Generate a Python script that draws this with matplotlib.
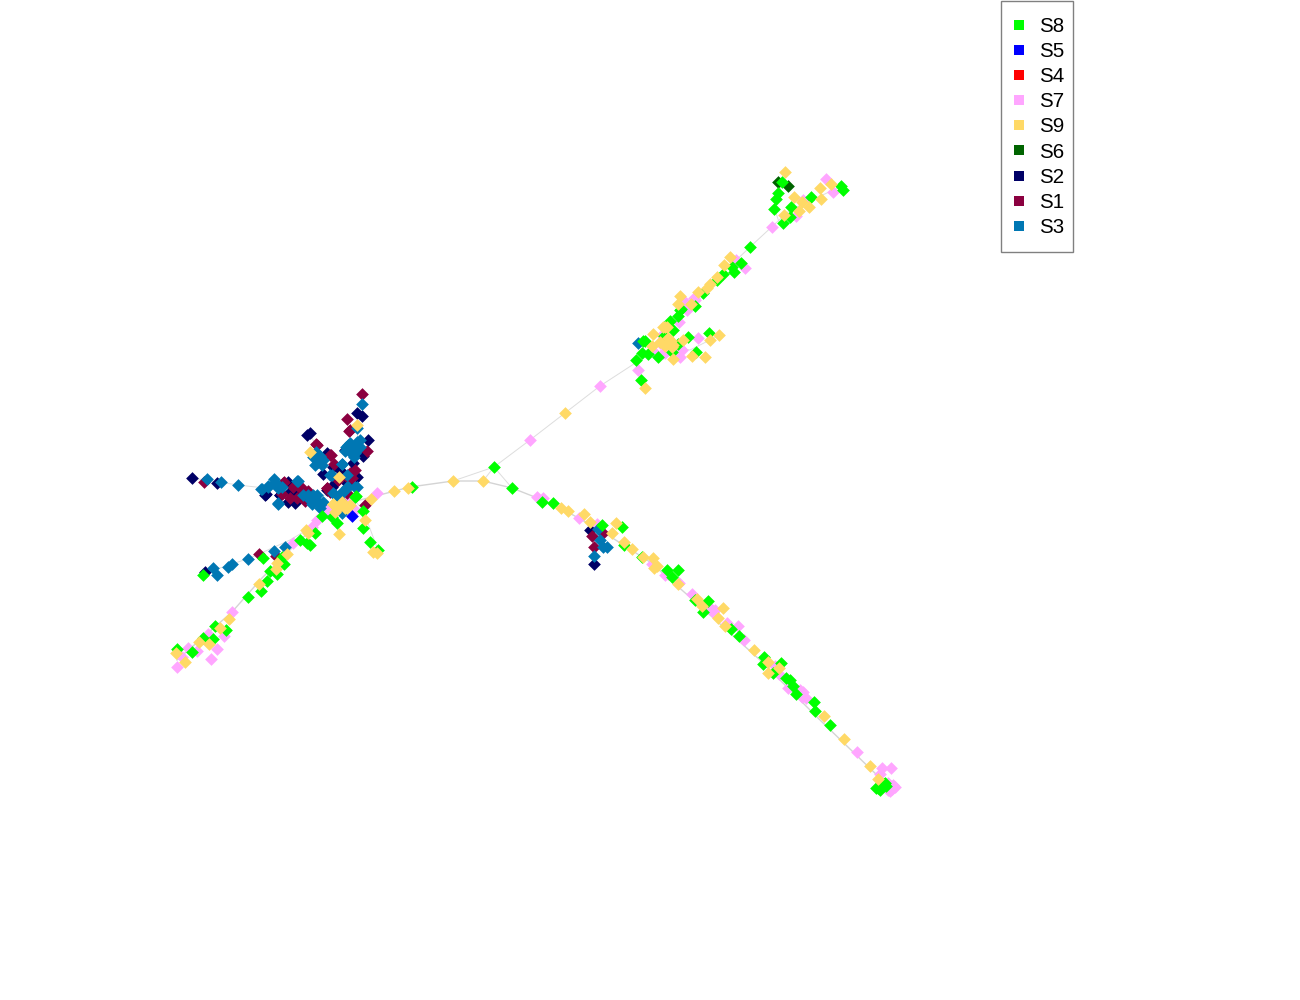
import matplotlib
matplotlib.use('Agg')
import matplotlib.pyplot as plt
from matplotlib.lines import Line2D
from matplotlib.patches import Rectangle

plt.rcParams['font.family'] = ['Liberation Sans', 'DejaVu Sans']

# layout coordinates of the cells
s3_x = [362, 221, 238, 207, 261, 268, 274, 282, 297, 278, 308, 317, 323, 312, 303, 333, 342, 347, 357, 340,
        330, 342, 350, 357, 352, 360, 353, 313, 320, 322, 316, 357, 274, 285, 248, 228, 232, 213, 217,
        598, 600, 603, 607, 594, 638,
        275, 262, 268, 278, 278, 298, 313, 310, 318, 320, 335, 342, 340, 348, 355, 347, 332, 342, 318, 320, 315,
        323, 352, 357, 355, 360, 348, 342, 345, 350, 354, 346]
s3_y = [404, 482, 485, 479, 489, 487, 479, 487, 481, 504, 495, 495, 502, 504, 495, 493, 493, 487, 487, 502,
        475, 464, 445, 442, 452, 447, 455, 457, 457, 465, 452, 428, 551, 547, 559, 567, 564, 568, 575,
        529, 540, 547, 547, 556, 343,
        482, 489, 486, 488, 503, 481, 495, 500, 502, 508, 495, 492, 500, 487, 487, 475, 475, 464, 462, 456, 465,
        460, 448, 445, 453, 440, 445, 513, 451, 443, 457, 447]
s2_x = [192, 217, 266, 288, 293, 280, 293, 357, 362, 307, 310, 368, 363, 353, 323, 357, 332, 327, 345, 333, 205, 590, 594,
        265, 290, 327, 305, 313, 335, 347, 288, 280, 295, 300, 340, 352, 345, 300]
s2_y = [478, 483, 494, 502, 493, 495, 498, 413, 416, 435, 433, 440, 456, 463, 474, 477, 487, 490, 450, 467, 572, 530, 564,
        495, 492, 453, 498, 502, 483, 483, 482, 495, 503, 495, 470, 472, 477, 490]
s1_x = [362, 204, 347, 349, 317, 330, 334, 284, 293, 301, 282, 308, 305, 327, 350, 365, 348, 367, 259, 276, 592, 594, 603,
        331, 283, 300, 297, 305, 327, 352, 347, 330, 350, 316, 338, 290, 355]
s1_y = [394, 482, 419, 431, 445, 455, 464, 482, 487, 487, 494, 491, 501, 488, 473, 505, 478, 451, 554, 556, 536, 547, 533,
        455, 483, 488, 498, 495, 488, 478, 493, 492, 430, 444, 480, 498, 470]
s8_x = [356, 363, 363, 370, 378, 322, 332, 337, 315, 300, 307, 310, 263, 282, 284, 270, 277, 267, 261, 248, 203,
        215, 226, 203, 213, 192, 177, 412,
        782, 778, 776, 774, 811, 791, 790, 783, 841, 843, 750, 741, 732, 734, 723, 717, 703, 695, 681, 678, 670,
        673, 664, 643, 658, 642, 648, 636, 641, 688, 709, 696, 678, 672,
        494, 512, 542, 553, 602, 622, 624, 642, 667, 678, 672, 695,
        708, 703, 731, 739, 764, 781, 763, 773, 786, 790, 793, 796, 814, 815, 830, 878, 882, 885, 880,
        876, 884, 881, 886, 355, 680, 645]
s8_y = [496, 511, 528, 542, 550, 516, 517, 523, 533, 540, 543, 545, 558, 557, 564, 571, 574, 581, 591, 597, 575,
        626, 630, 638, 639, 652, 649, 487,
        182, 193, 199, 209, 197, 207, 217, 223, 186, 190, 247, 263, 267, 272, 274, 280, 293, 306, 309, 316, 321,
        330, 336, 341, 357, 353, 354, 360, 380, 337, 333, 352, 344, 352,
        467, 488, 502, 503, 525, 527, 545, 557, 570, 570, 577, 600,
        601, 612, 629, 636, 657, 663, 664, 673, 678, 680, 686, 694, 702, 711, 725, 788, 787, 783, 790,
        788, 784, 785, 786, 497, 310, 341]
s9_x = [339, 357, 310, 394, 408, 371, 365, 339, 373, 377, 333, 335, 347, 350, 342, 308, 306, 287, 277, 276, 259,
        229, 220, 199, 209, 176, 185,
        453, 483, 561, 568, 584, 590, 616, 612, 624, 632, 643, 653, 657, 654, 678,
        697, 702, 723, 718, 725, 754, 768, 779, 768, 824, 844, 870, 878,
        785, 820, 831, 821, 794, 802, 809, 799, 784, 730, 724, 717, 710, 707, 698, 680, 691, 678, 665, 653, 652,
        670, 667, 673, 683, 710, 719, 692, 705, 673, 645, 565,
        668, 672, 667, 663, 345, 338, 333, 660, 665, 671]
s9_y = [477, 425, 452, 491, 488, 499, 520, 534, 552, 553, 504, 512, 508, 505, 502, 533, 530, 554, 563, 569, 584,
        619, 628, 642, 644, 653, 662,
        481, 481, 508, 511, 514, 522, 523, 533, 542, 549, 557, 558, 566, 568, 584,
        599, 606, 608, 618, 626, 650, 662, 668, 673, 716, 739, 766, 779,
        172, 188, 184, 199, 197, 202, 207, 211, 215, 257, 265, 277, 284, 288, 292, 296, 304, 304, 327, 334, 346,
        343, 343, 345, 340, 340, 335, 356, 357, 359, 388, 413,
        338, 347, 327, 327, 508, 508, 504, 342, 346, 341]
s7_x = [377, 232, 224, 208, 217, 211, 188, 197, 182, 177, 293, 312, 317, 327, 350,
        537, 543, 579, 597, 652, 668, 665, 679, 692,
        710, 713, 727, 738, 744, 775, 779, 788, 803, 802, 857, 882, 891, 880, 888, 895, 890,
        826, 833, 803, 796, 772, 736, 745, 694, 685, 687, 679, 662, 663, 653, 673, 682, 680, 698, 638, 600, 530,
        355, 343, 665, 680, 660, 695, 800, 806, 893, 888, 892, 708, 715]
s7_y = [493, 612, 636, 634, 649, 659, 648, 651, 657, 667, 543, 527, 520, 510, 502,
        497, 498, 518, 524, 564, 574, 575, 583, 594,
        608, 612, 623, 626, 640, 666, 674, 688, 692, 697, 752, 768, 768, 774, 783, 787, 791,
        179, 192, 200, 216, 227, 260, 268, 298, 302, 310, 322, 335, 353, 351, 351, 350, 357, 338, 370, 386, 440,
        510, 500, 353, 348, 343, 300, 690, 698, 785, 790, 789, 606, 610]
s6_x = [778, 788]
s6_y = [182, 186]
s5_x = [352]
s5_y = [516]
s4_x = []
s4_y = []

# tree edges behind the cells
edge_main_x = [177, 232, 262, 300, 340, 372, 410, 453, 483, 512, 555, 600, 650, 700, 760, 820, 880, 890]
edge_main_y = [660, 612, 578, 540, 505, 497, 487, 481, 481, 488, 505, 530, 562, 606, 660, 720, 778, 787]
edge_up_x = [483, 494, 530, 600, 640, 700, 750, 790, 840]
edge_up_y = [481, 467, 440, 386, 360, 295, 247, 210, 187]
edge_tri_x = [453, 494, 512]
edge_tri_y = [481, 467, 488]
edge_a_x = [205, 232, 250, 290, 340]
edge_a_y = [573, 564, 558, 540, 510]
edge_b_x = [192, 238, 300, 340]
edge_b_y = [478, 485, 492, 497]
edge_c_x = [362, 356, 340]
edge_c_y = [394, 450, 495]
edge_d_x = [310, 325, 340]
edge_d_y = [435, 460, 480]
edge_e_x = [378, 363, 350]
edge_e_y = [550, 510, 495]
edge_f_x = [594, 596, 600]
edge_f_y = [564, 545, 530]
edge_g_x = [660, 690, 718]
edge_g_y = [345, 350, 336]
edge_h_x = [782, 775, 780]
edge_h_y = [182, 210, 225]

colors = {'S8': '#00ff00', 'S5': '#0000ff', 'S4': '#ff0000', 'S7': '#ffa6ff', 'S9': '#ffd966',
          'S6': '#006400', 'S2': '#000066', 'S1': '#8b0040', 'S3': '#0077b3'}
legend_order = ['S8', 'S5', 'S4', 'S7', 'S9', 'S6', 'S2', 'S1', 'S3']

fig = plt.figure(figsize=(13, 10), dpi=100)
ax = fig.add_axes([0, 0, 1, 1])

ax.plot(edge_main_x, edge_main_y, color='#d4d4d4', lw=1.0, zorder=1)
edges = [(edge_up_x, edge_up_y), (edge_tri_x, edge_tri_y),
         (edge_a_x, edge_a_y), (edge_b_x, edge_b_y), (edge_c_x, edge_c_y), (edge_d_x, edge_d_y),
         (edge_e_x, edge_e_y), (edge_f_x, edge_f_y), (edge_g_x, edge_g_y), (edge_h_x, edge_h_y)]
for ex, ey in edges:
    ax.plot(ex, ey, color='#dddddd', lw=0.7, zorder=1)

# draw order picked so that overlaps come out as in the picture
layers = [('S6', s6_x, s6_y), ('S7', s7_x, s7_y), ('S4', s4_x, s4_y), ('S2', s2_x, s2_y), ('S1', s1_x, s1_y),
          ('S3', s3_x, s3_y), ('S8', s8_x, s8_y), ('S9', s9_x, s9_y), ('S5', s5_x, s5_y)]
for z, (name, xs, ys) in enumerate(layers):
    ax.scatter(xs, ys, marker='D', s=42, color=colors[name], linewidths=0, antialiased=False, zorder=2 + z)

ax.set_xlim(0, 1300)
ax.set_ylim(1000, 0)
ax.axis('off')

# legend box runs into the top edge of the figure, so it gets its own frame
ax.add_patch(Rectangle((1000.5, 0.5), 72.5, 251.5, facecolor='white', edgecolor='#808080', lw=1, zorder=20))
handles = [Line2D([], [], linestyle='none', marker='s', markersize=7.2, markeredgewidth=0, color=colors[n])
           for n in legend_order]
leg = ax.legend(handles, legend_order, loc='upper left', bbox_to_anchor=(999.5 / 1300, 1 - 7.5 / 1000), fontsize=14.8,
                frameon=False, borderaxespad=0, labelspacing=0.3, handletextpad=0.45, borderpad=0.45, handlelength=1.0)
leg.set_zorder(21)

fig.savefig('out.png', dpi=100)
